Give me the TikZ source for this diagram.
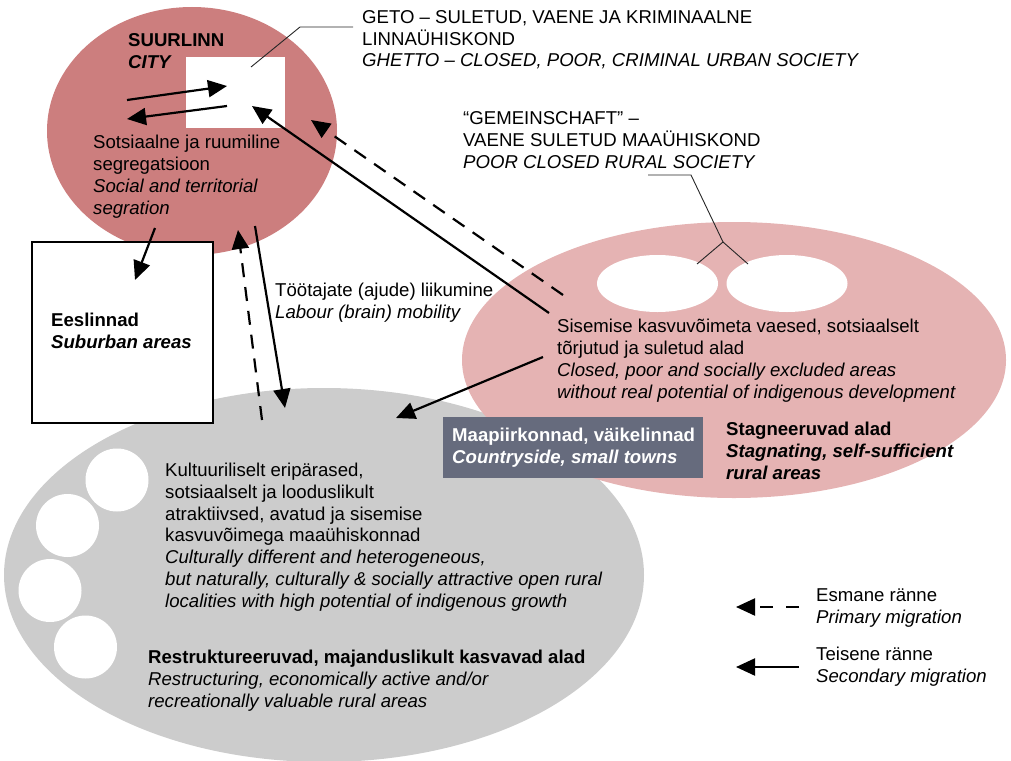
\documentclass[tikz,border=0pt]{standalone}
\usepackage{fontspec}
\setmainfont{Liberation Sans}
\usetikzlibrary{shapes.geometric,arrows.meta}
\definecolor{cityc}{RGB}{204,126,126}
\definecolor{stagc}{RGB}{229,179,179}
\definecolor{greyc}{RGB}{204,204,204}
\definecolor{boxc}{RGB}{102,107,125}
\tikzset{
  txt/.style={font=\fontsize{18.6}{21.7}\selectfont, align=left, inner sep=0pt, anchor=base west},
  blob/.style={ellipse, inner sep=0pt, draw=none},
  hole/.style={ellipse, inner sep=0pt, draw=none, fill=white},
  mig/.style={line width=2.2pt, -{Triangle[length=19pt,width=17pt]}},
  prim/.style={mig, dash pattern=on 14pt off 10pt},
  lead/.style={line width=0.9pt, black!85},
}
\begin{document}
\begin{tikzpicture}[x=1pt,y=-1pt]
\useasboundingbox (0,0) rectangle (1011,760);
\clip (0,0) rectangle (1011,760);
% grey region
\node[blob, fill=greyc, minimum width=640pt, minimum height=374pt] (grey) at (324,575) {};
\foreach \n/\x/\y in {c1/117/480, c2/67.5/525.5, c3/50/590.5, c4/85.5/647}
  \node[circle, fill=white, inner sep=0pt, minimum size=63pt] (\n) at (\x,\y) {};
% stagnating region
\node[blob, fill=stagc, minimum width=544pt, minimum height=276pt] (stag) at (734,360) {};
\node[hole, minimum width=121pt, minimum height=57pt] (st1) at (657.5,283.5) {};
\node[hole, minimum width=121pt, minimum height=57pt] (st2) at (787,283.5) {};
% city
\node[blob, fill=cityc, minimum width=290pt, minimum height=248pt] (city) at (192,131) {};
\node[rectangle, fill=white, inner sep=0pt, minimum width=99pt, minimum height=71pt] (ghetto) at (235.5,92.5) {};
% suburbs
\node[rectangle, draw=black, line width=1.6pt, fill=white, inner sep=0pt, minimum width=181pt, minimum height=181pt] (sub) at (122.5,332.5) {};
% dark box
\node[rectangle, fill=boxc, inner sep=0pt, minimum width=260pt, minimum height=61pt] (cs) at (573,447.5) {};

% texts (anchored at the baseline of their last line)
\node[txt] (tcity) at (128,68) {\textbf{SUURLINN}\\\textbf{\itshape CITY}};
\node[txt] (tseg) at (93,214) {Sotsiaalne ja ruumiline\\segregatsioon\\\textit{Social and territorial}\\\textit{segration}};
\node[txt] (tgeto) at (362,66.7) {GETO – SULETUD, VAENE JA KRIMINAALNE\\LINNAÜHISKOND\\\textit{GHETTO – CLOSED, POOR, CRIMINAL URBAN SOCIETY}};
\node[txt] (tgem) at (463,168) {“GEMEINSCHAFT” –\\VAENE SULETUD MAAÜHISKOND\\\textit{POOR CLOSED RURAL SOCIETY}};
\node[txt] (tlab) at (275,318) {Töötajate (ajude) liikumine\\\textit{Labour (brain) mobility}};
\node[txt] (tsub) at (51,348) {\textbf{Eeslinnad}\\\textbf{\itshape Suburban areas}};
\node[txt] (tsis) at (557,398) {Sisemise kasvuvõimeta vaesed, sotsiaalselt\\tõrjutud ja suletud alad\\\textit{Closed, poor and socially excluded areas}\\\textit{without real potential of indigenous development}};
\node[txt, text=white] (tcs) at (452,463) {\textbf{Maapiirkonnad, väikelinnad}\\\textbf{\itshape Countryside, small towns}};
\node[txt] (tstag) at (726,479) {\textbf{Stagneeruvad alad}\\\textbf{\itshape Stagnating, self-sufficient}\\\textbf{\itshape rural areas}};
\node[txt] (tkul) at (165,607) {Kultuuriliselt eripärased,\\sotsiaalselt ja looduslikult\\atraktiivsed, avatud ja sisemise\\kasvuvõimega maaühiskonnad\\\textit{Culturally different and heterogeneous,}\\\textit{but naturally, culturally \& socially attractive open rural}\\\textit{localities with high potential of indigenous growth}};
\node[txt] (tres) at (148,707) {\textbf{Restruktureeruvad, majanduslikult kasvavad alad}\\\textit{Restructuring, economically active and/or}\\\textit{recreationally valuable rural areas}};
\node[txt] (tesm) at (816,623) {Esmane ränne\\\textit{Primary migration}};
\node[txt] (ttei) at (816,682) {Teisene ränne\\\textit{Secondary migration}};

% leader lines
\coordinate (gl1) at (251,67);
\coordinate (gl2) at (300,27);
\coordinate (gl3) at (353,27);
\draw[lead] (gl1) -- (gl2) -- (gl3);
\coordinate (gm1) at (648,175);
\coordinate (gm2) at (691,175);
\coordinate (gm3) at (723,242);
\coordinate (gm4) at (697,264);
\coordinate (gm5) at (748,264);
\draw[lead] (gm1) -- (gm2) -- (gm3) -- (gm4);
\draw[lead] (gm3) -- (gm5);

% arrows
\coordinate (a1s) at (127,100); \coordinate (a1e) at (227,86);
\coordinate (a2s) at (227,106); \coordinate (a2e) at (127,119);
\coordinate (a3s) at (155,228); \coordinate (a3e) at (135,280);
\coordinate (a4s) at (262,420); \coordinate (a4e) at (238,230);
\coordinate (a5s) at (255,226); \coordinate (a5e) at (285,408);
\coordinate (a6s) at (549,313); \coordinate (a6e) at (252,106);
\coordinate (a7s) at (563,295); \coordinate (a7e) at (311,120);
\coordinate (a8s) at (543,357); \coordinate (a8e) at (396,418);
\draw[mig] (a1s) -- (a1e);
\draw[mig] (a2s) -- (a2e);
\draw[mig] (a3s) -- (a3e);
\draw[prim] (a4s) -- (a4e);
\draw[mig] (a5s) -- (a5e);
\draw[mig] (a6s) -- (a6e);
\draw[prim] (a7s) -- (a7e);
\draw[mig] (a8s) -- (a8e);
% legend
\coordinate (l1s) at (799,607); \coordinate (l1e) at (736,607);
\coordinate (l2s) at (799,667); \coordinate (l2e) at (736,667);
\draw[mig, dash pattern=on 13pt off 13pt] (l1s) -- (l1e);
\draw[mig] (l2s) -- (l2e);
\end{tikzpicture}
\end{document}
